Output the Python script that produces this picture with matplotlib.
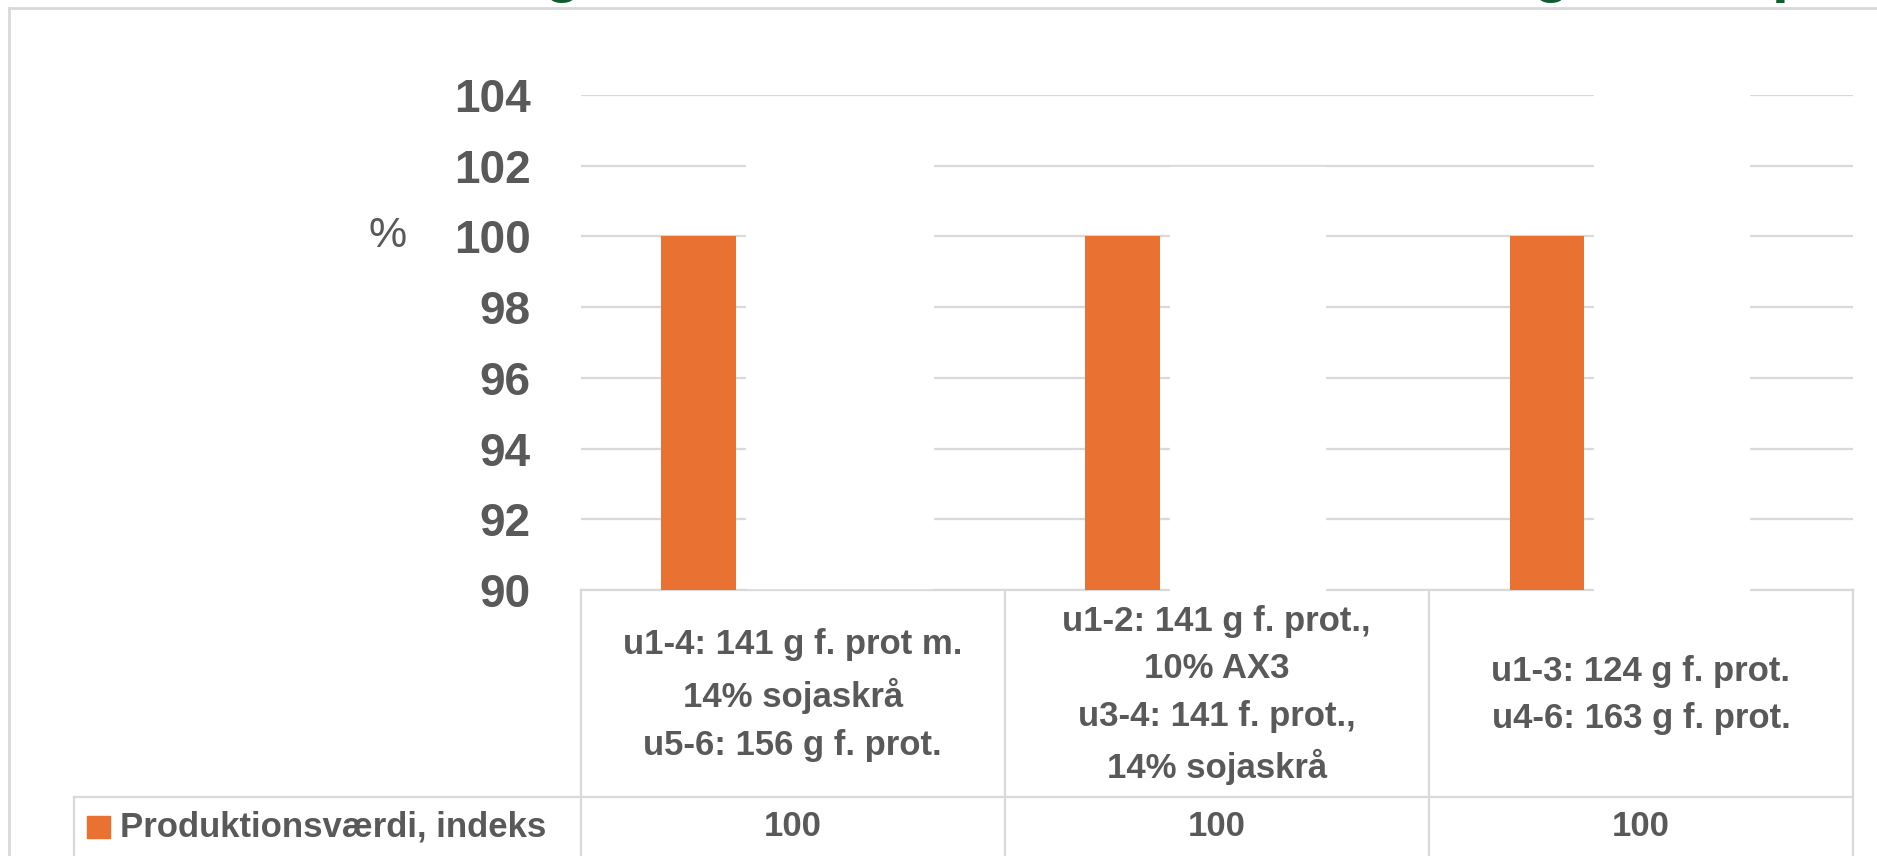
import matplotlib
matplotlib.use("Agg")
import matplotlib.pyplot as plt
from matplotlib.patches import Rectangle
from matplotlib.lines import Line2D
from matplotlib.transforms import blended_transform_factory

# data
categories = [
    "u1-4: 141 g f. prot m.\n14% sojaskrå\nu5-6: 156 g f. prot.",
    "u1-2: 141 g f. prot.,\n10% AX3\nu3-4: 141 f. prot.,\n14% sojaskrå",
    "u1-3: 124 g f. prot.\nu4-6: 163 g f. prot.",
]
series_name = "Produktionsværdi, indeks"
values = [100, 100, 100]
y_ticks = [90, 92, 94, 96, 98, 100, 102, 104]
y_label = "%"

W, H = 1877, 856
fx = lambda px: px / W
fy = lambda py: 1 - py / H

grey_txt = "#595959"
grid_col = "#D9D9D9"
orange = "#E97132"
green = "#0E5C2F"
font = "Liberation Sans"

fig = plt.figure(figsize=(W / 100, H / 100), dpi=100)

# plot area in pixels (left, top, right, bottom)
L, T, R, B = 580.5, 95, 1853, 590
ax = fig.add_axes([fx(L), fy(B), (R - L) / W, (B - T) / H])

bar_off = -0.222
bar_w = 0.175
xs = [i + bar_off for i in range(len(values))]
ax.bar(xs, [v - y_ticks[0] for v in values], bottom=y_ticks[0], width=bar_w,
       color=orange, zorder=3)

ax.set_xlim(-0.5, len(categories) - 0.5)
ax.set_ylim(y_ticks[0], y_ticks[-1])
ax.set_yticks(y_ticks)
ax.set_yticklabels([str(t) for t in y_ticks], fontfamily=font, fontweight="bold",
                   fontsize=33, color=grey_txt)
ax.set_xticks([])
ax.tick_params(axis="y", length=0, pad=36)
ax.yaxis.grid(True, color=grid_col, lw=1.6, zorder=0)
for s in ["left", "right", "top"]:
    ax.spines[s].set_visible(False)
ax.spines["bottom"].set_color(grid_col)
ax.spines["bottom"].set_linewidth(1.6)

fig.text(fx(388), fy(236), y_label, fontfamily=font, fontsize=31, color=grey_txt,
         ha="center", va="center")

# white blocks that hide parts of the gridlines
for x0, y0, x1, y1 in [(746, 120, 933, 588), (1170, 166.5, 1325, 592),
                       (1594, 60, 1749, 592)]:
    fig.add_artist(Rectangle((fx(x0), fy(y1)), (x1 - x0) / W, (y1 - y0) / H,
                             transform=fig.transFigure, color="white", zorder=5))

# data table
tr = blended_transform_factory(ax.transData, fig.transFigure)
row_y = 797
for xb in [-0.5 + i for i in range(len(categories) + 1)]:
    ax.add_line(Line2D([xb, xb], [fy(B), 0], transform=tr, color=grid_col, lw=1.6,
                       clip_on=False))
fig.add_artist(Line2D([fx(74), fx(R)], [fy(row_y), fy(row_y)], color=grid_col, lw=1.6))
fig.add_artist(Line2D([fx(74), fx(74)], [fy(row_y), 0], color=grid_col, lw=1.6))

for i, lab in enumerate(categories):
    ax.text(i, fy(695), lab, transform=tr, ha="center", va="center",
            multialignment="center", fontfamily=font, fontweight="bold",
            fontsize=25, color=grey_txt, linespacing=1.56)
    ax.text(i, fy(827), f"{values[i]:g}", transform=tr, ha="center", va="center",
            fontfamily=font, fontweight="bold", fontsize=25, color=grey_txt)

fig.add_artist(Rectangle((fx(87), fy(838)), 23 / W, 22 / H, transform=fig.transFigure,
                         color=orange))
fig.text(fx(120), fy(827), series_name, fontfamily=font, fontweight="bold",
         fontsize=25, color=grey_txt, ha="left", va="center")

# chart area border
fig.add_artist(Line2D([fx(8.5), 1], [fy(8), fy(8)], color=grid_col, lw=2))
fig.add_artist(Line2D([fx(8.5), fx(8.5)], [fy(8), 0], color=grid_col, lw=2))

# bottoms of the slide title letters just above the chart
for x, ch in [(562, "g"), (1551, "g"), (1791, "p")]:
    fig.text(fx(x), fy(-10), ch, fontfamily=font, fontweight="bold", fontsize=44,
             color=green, ha="center", va="baseline")

fig.savefig("out.png", dpi=100, facecolor="white")
